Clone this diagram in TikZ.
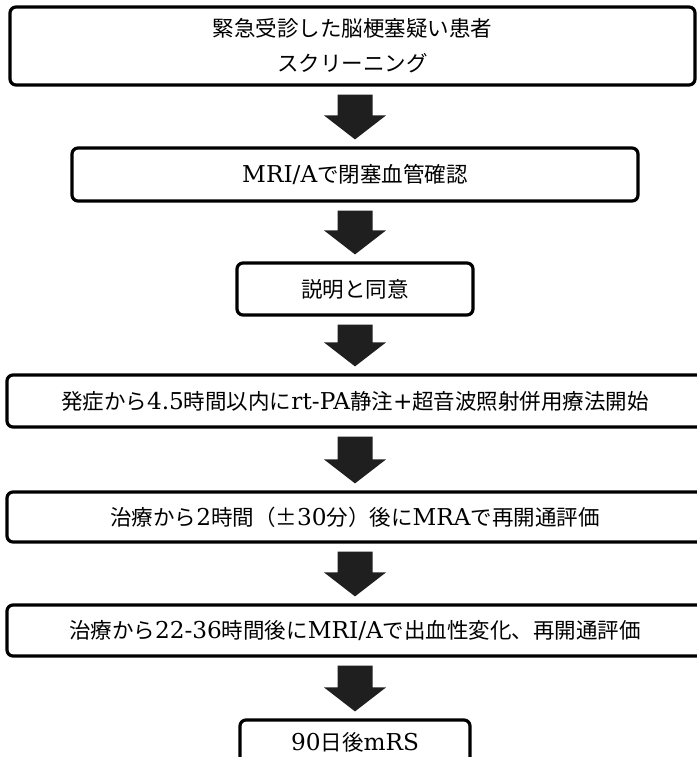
\documentclass[tikz,border=0pt]{standalone}
\usepackage{fontspec}
\setmainfont{DejaVu Serif}[Scale=1.08]
\newfontfamily\jp{Noto Sans CJK JP}
\usetikzlibrary{calc}
\newcommand\J[1]{{\jp #1}}
\tikzset{
  stepbox/.style={draw=black, line width=3.2pt, rounded corners=6pt, fill=white,
    inner sep=0pt, align=center, font=\fontsize{21.5}{35}\selectfont},
  arrowfill/.style={fill=black!88}
}
\newcommand\blkarrow[2]{%
  \fill[arrowfill] let \p1=(#1.south), \p2=(#2.north) in
    (337.5pt,\y1-8pt) -- (372.5pt,\y1-8pt) -- (372.5pt,\y2+31pt) --
    (386pt,\y2+31pt) -- (355pt,\y2+7pt) -- (324pt,\y2+31pt) --
    (337.5pt,\y2+31pt) -- cycle;}
\begin{document}
\begin{tikzpicture}[x=1pt,y=1pt]
\fill[white] (0,0) rectangle (696,-757);
\useasboundingbox (0,0) rectangle (696,-757);

\node[stepbox, minimum width=685pt, minimum height=78pt] (b1) at (352.5,-46)
  {\J{緊急受診した脳梗塞疑い患者}\\\J{スクリーニング}};
\node[stepbox, minimum width=566pt, minimum height=53pt] (b2) at (355,-174.5)
  {MRI/A\J{で閉塞血管確認}};
\node[stepbox, minimum width=236pt, minimum height=52pt] (b3) at (355,-289)
  {\J{説明と同意}};
\node[stepbox, minimum width=696pt, minimum height=52pt] (b4) at (355,-401)
  {\J{発症から}4.5\J{時間以内に}rt-PA\J{静注}+\J{超音波照射併用療法開始}};
\node[stepbox, minimum width=696pt, minimum height=50pt] (b5) at (355,-517)
  {\J{治療から}2\J{時間（±}30\J{分）後に}MRA\J{で再開通評価}};
\node[stepbox, minimum width=696pt, minimum height=51pt] (b6) at (355,-630.5)
  {\J{治療から}22-36\J{時間後に}MRI/A\J{で出血性変化、再開通評価}};
\node[stepbox, minimum width=230pt, minimum height=44pt] (b7) at (355,-742)
  {90\J{日後}mRS};

\blkarrow{b1}{b2}
\blkarrow{b2}{b3}
\blkarrow{b3}{b4}
\blkarrow{b4}{b5}
\blkarrow{b5}{b6}
\blkarrow{b6}{b7}
\end{tikzpicture}
\end{document}
